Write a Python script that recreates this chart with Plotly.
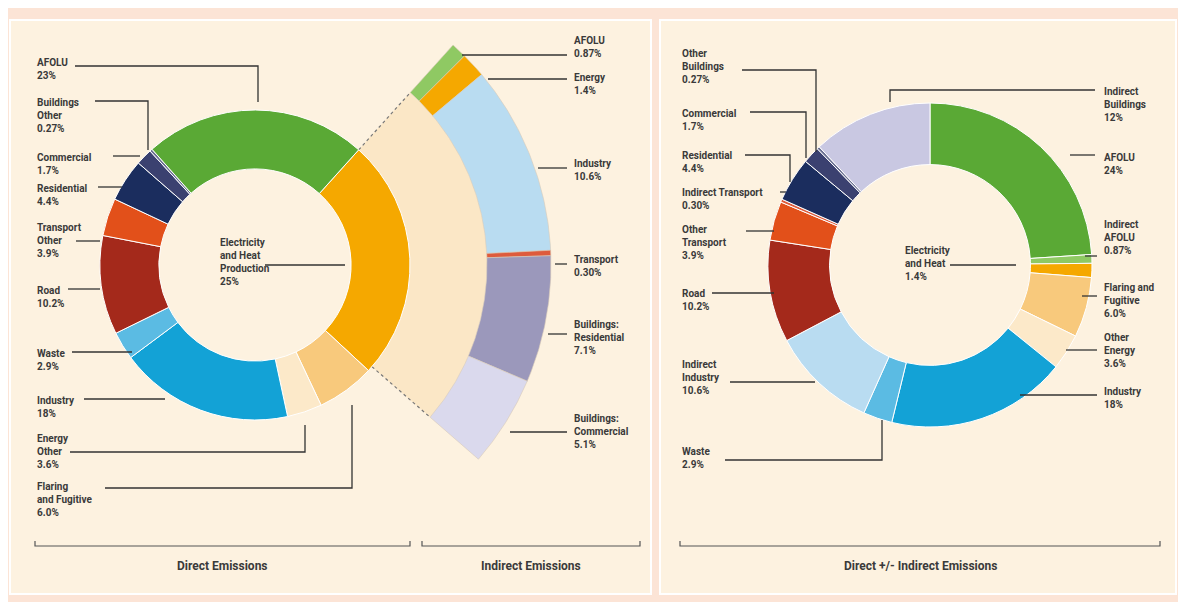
import numpy as np
import plotly.graph_objects as go

W, H = 1186, 602
OFF = 8  # page body margin in the browser; compensate so pixel coords match

# ---- data ----
direct_labels = ["Electricity and Heat Production", "Flaring and Fugitive", "Energy Other", "Industry",
                 "Waste", "Road", "Transport Other", "Residential", "Commercial", "Buildings Other", "AFOLU"]
direct_values = [25, 6.0, 3.6, 18, 2.9, 10.2, 3.9, 4.4, 1.7, 0.27, 23]
direct_colors = ["#f5a800", "#f8c97c", "#fce9c9", "#13a2d6", "#5bbbe3", "#a4291b", "#e2501a",
                 "#1b2d5e", "#3b4170", "#6a7092", "#5aa935"]

indirect_labels = ["AFOLU", "Energy", "Industry", "Transport", "Buildings: Residential", "Buildings: Commercial"]
indirect_values = [0.87, 1.4, 10.6, 0.30, 7.1, 5.1]
indirect_colors = ["#8fc963", "#f5a800", "#b9dcf1", "#de5b3c", "#9b98bb", "#dad9ed"]

total_labels = ["AFOLU", "Indirect AFOLU", "Electricity and Heat", "Flaring and Fugitive", "Other Energy",
                "Industry", "Waste", "Indirect Industry", "Road", "Other Transport", "Indirect Transport",
                "Residential", "Commercial", "Other Buildings", "Indirect Buildings"]
total_values = [24, 0.87, 1.4, 6.0, 3.6, 18, 2.9, 10.6, 10.2, 3.9, 0.30, 4.4, 1.7, 0.27, 12]
total_colors = ["#5aa935", "#8fc963", "#f5a800", "#f8c97c", "#fce9c9", "#13a2d6", "#5bbbe3", "#b9dcf1",
                "#a4291b", "#e2501a", "#de5b3c", "#1b2d5e", "#3b4170", "#6a7092", "#c9c8e2"]

# geometry in pixels
L_CX, L_CY, L_R = 255, 265, 155
R_CX, R_CY, R_R = 930, 265, 162
ARC_R0, ARC_R1 = 232, 296
ARC_A0, ARC_A1 = 42, 131   # degrees clockwise from 12 o'clock (same as electricity slice)

fig = go.Figure()


def sector(cx, cy, r0, r1, a0, a1, n=60):
    t = np.radians(np.linspace(a0, a1, n))
    xo, yo = cx + r1 * np.sin(t), cy - r1 * np.cos(t)
    xi, yi = cx + r0 * np.sin(t[::-1]), cy - r0 * np.cos(t[::-1])
    return np.r_[xo, xi, xo[0]], np.r_[yo, yi, yo[0]]


# cream fan linking the electricity slice to the indirect arc
fx, fy = sector(L_CX, L_CY, L_R - 5, ARC_R0, ARC_A0, ARC_A1)
fig.add_trace(go.Scatter(x=fx, y=fy, fill="toself", fillcolor="#fbe7c6", mode="lines",
                         line=dict(width=0), hoverinfo="skip", showlegend=False))
for a in (ARC_A0, ARC_A1):
    t = np.radians(a)
    fig.add_trace(go.Scatter(x=[L_CX + L_R * np.sin(t), L_CX + ARC_R0 * np.sin(t)],
                             y=[L_CY - L_R * np.cos(t), L_CY - ARC_R0 * np.cos(t)],
                             mode="lines", line=dict(color="#777", width=1.2, dash="dot"),
                             hoverinfo="skip", showlegend=False))

# indirect emissions arc, split by value
tot = sum(indirect_values)
edges = ARC_A0 + (ARC_A1 - ARC_A0) * np.r_[0, np.cumsum(indirect_values)] / tot
for lab, c, a0, a1 in zip(indirect_labels, indirect_colors, edges[:-1], edges[1:]):
    sx, sy = sector(L_CX, L_CY, ARC_R0, ARC_R1, a0, a1)
    fig.add_trace(go.Scatter(x=sx, y=sy, fill="toself", fillcolor=c, mode="lines",
                             line=dict(width=0.6, color="#d8cbb8"), name=lab, showlegend=False))


def dom(cx, cy, r):
    cx, cy = cx - OFF, cy - OFF
    return dict(x=[(cx - r) / W, (cx + r) / W], y=[1 - (cy + r) / H, 1 - (cy - r) / H])


fig.add_trace(go.Pie(labels=direct_labels, values=direct_values, marker=dict(colors=direct_colors,
                     line=dict(color="white", width=1)), hole=0.62, sort=False, direction="clockwise",
                     rotation=ARC_A0, textinfo="none", domain=dom(L_CX, L_CY, L_R), showlegend=False))
fig.add_trace(go.Pie(labels=total_labels, values=total_values, marker=dict(colors=total_colors,
                     line=dict(color="white", width=1)), hole=0.62, sort=False, direction="clockwise",
                     rotation=0, textinfo="none", domain=dom(R_CX, R_CY, R_R), showlegend=False))

# ---- labels with leader lines: (text, x, y, leader polyline) ----
labels = [
    ("AFOLU<br>23%", 35, 55, [(75, 66), (258, 66), (258, 102)]),
    ("Buildings<br>Other<br>0.27%", 35, 95, [(95, 101), (148, 101), (148, 150)]),
    ("Commercial<br>1.7%", 35, 150, [(113, 156), (140, 156)]),
    ("Residential<br>4.4%", 35, 181, [(98, 187), (122, 187)]),
    ("Transport<br>Other<br>3.9%", 35, 220, [(76, 241), (100, 241)]),
    ("Road<br>10.2%", 35, 283, [(68, 289), (100, 289)]),
    ("Waste<br>2.9%", 35, 346, [(72, 352), (132, 352)]),
    ("Industry<br>18%", 35, 393, [(84, 399), (165, 399)]),
    ("Energy<br>Other<br>3.6%", 35, 431, [(70, 452), (305, 452), (305, 425)]),
    ("Flaring<br>and Fugitive<br>6.0%", 35, 479, [(105, 488), (352, 488), (352, 405)]),
    ("Electricity<br>and Heat<br>Production<br>25%", 218, 235, [(265, 265), (345, 265)]),
    ("AFOLU<br>0.87%", 572, 33, [(462, 55), (567, 55)]),
    ("Energy<br>1.4%", 572, 70, [(488, 79), (567, 79)]),
    ("Industry<br>10.6%", 572, 156, [(538, 168), (567, 168)]),
    ("Transport<br>0.30%", 572, 252, [(555, 264), (567, 264)]),
    ("Buildings:<br>Residential<br>7.1%", 572, 317, [(548, 334), (567, 334)]),
    ("Buildings:<br>Commercial<br>5.1%", 572, 411, [(510, 432), (567, 432)]),
    ("Other<br>Buildings<br>0.27%", 680, 46, [(742, 70), (816, 70), (816, 152)]),
    ("Commercial<br>1.7%", 680, 106, [(750, 112), (806, 112), (806, 158)]),
    ("Residential<br>4.4%", 680, 148, [(745, 155), (790, 155), (790, 182)]),
    ("Indirect Transport<br>0.30%", 680, 185, [(780, 192), (786, 192)]),
    ("Other<br>Transport<br>3.9%", 680, 222, [(746, 231), (774, 231)]),
    ("Road<br>10.2%", 680, 286, [(712, 293), (774, 293)]),
    ("Indirect<br>Industry<br>10.6%", 680, 357, [(730, 382), (815, 382)]),
    ("Waste<br>2.9%", 680, 444, [(725, 460), (882, 460), (882, 420)]),
    ("Electricity<br>and Heat<br>1.4%", 903, 243, [(950, 265), (1016, 265)]),
    ("Indirect<br>Buildings<br>12%", 1102, 84, [(890, 102), (890, 90), (1095, 90)]),
    ("AFOLU<br>24%", 1102, 150, [(1070, 155), (1095, 155)]),
    ("Indirect<br>AFOLU<br>0.87%", 1102, 217, [(1085, 256), (1097, 256)]),
    ("Flaring and<br>Fugitive<br>6.0%", 1102, 280, [(1082, 296), (1097, 296)]),
    ("Other<br>Energy<br>3.6%", 1102, 330, [(1066, 350), (1097, 350)]),
    ("Industry<br>18%", 1102, 384, [(1020, 395), (1097, 395)]),
]

font = dict(family="Liberation Sans Narrow, Arial Narrow, Roboto", size=10, color="#3a3a3a")
shapes = [
    dict(type="rect", x0=-20, x1=W + 20, y0=-20, y1=H + 20, fillcolor="#fce4d6", line_width=0, layer="below"),
    dict(type="rect", x0=10, x1=651, y0=20, y1=594, fillcolor="#fdf2e0", line=dict(color="white", width=2), layer="below"),
    dict(type="rect", x0=660, x1=1176, y0=20, y1=594, fillcolor="#fdf2e0", line=dict(color="white", width=2), layer="below"),
]
ann = []
for text, x, y, pts in labels:
    ann.append(dict(x=x, y=y, xref="x", yref="y", text="<b>" + text + "</b>", showarrow=False,
                    xanchor="left", yanchor="top", align="left", font=font))
    path = "M " + " L ".join(f"{px},{py}" for px, py in pts)
    shapes.append(dict(type="path", path=path, xref="x", yref="y", line=dict(color="#333", width=1.3),
                       layer="above"))

# bottom brackets with captions
brackets = [("Direct Emissions", 35, 410), ("Indirect Emissions", 422, 640),
            ("Direct +/- Indirect Emissions", 680, 1160)]
for cap, x0, x1 in brackets:
    shapes.append(dict(type="path", path=f"M {x0},541 L {x0},546 L {x1},546 L {x1},541",
                       xref="x", yref="y", line=dict(color="#555", width=1.2)))
    ann.append(dict(x=(x0 + x1) / 2, y=566, xref="x", yref="y", text="<b>" + cap + "</b>",
                    showarrow=False, font=dict(family=font["family"], size=12, color="#3a3a3a")))

fig.update_layout(
    width=W, height=H, margin=dict(l=0, r=0, t=0, b=0),
    paper_bgcolor="#fce4d6", plot_bgcolor="rgba(0,0,0,0)",
    xaxis=dict(range=[OFF, W + OFF], visible=False, fixedrange=True),
    yaxis=dict(range=[H + OFF, OFF], visible=False, fixedrange=True),
    shapes=shapes, annotations=ann, showlegend=False,
)

fig.write_html("out.html")
